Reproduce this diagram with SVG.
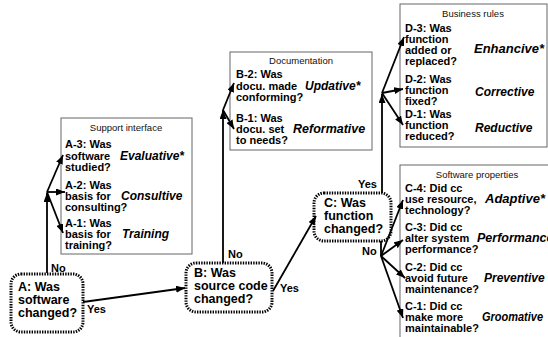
<svg xmlns="http://www.w3.org/2000/svg" width="548" height="337" viewBox="0 0 548 337">
<style>
.box{fill:#fff;stroke:#666;stroke-width:1}
.node{fill:#fff;stroke:#000;stroke-width:3;stroke-dasharray:1.4 1.2}
.hdr{font-family:'Liberation Sans',Arial,sans-serif;font-size:9.5px;text-anchor:middle;fill:#111}
.q{font-family:'Liberation Sans',Arial,sans-serif;font-size:11px;font-weight:bold;fill:#000}
.t{font-family:'Liberation Sans',Arial,sans-serif;font-size:12px;font-weight:bold;font-style:italic;fill:#000}
.n{font-family:'Liberation Sans',Arial,sans-serif;font-size:12.5px;font-weight:bold;fill:#000}
.l{font-family:'Liberation Sans',Arial,sans-serif;font-size:11px;font-weight:bold;fill:#000}
.c{stroke:#000;stroke-width:1.8;fill:none}
</style>
<defs>
<marker id="ah" markerUnits="userSpaceOnUse" markerWidth="9" markerHeight="7" refX="9" refY="3.5" orient="auto">
<path d="M0,0 L9,3.5 L0,7 z" fill="#000"/>
</marker>
</defs>

<g id="support-interface">
<rect class="box" x="61" y="118" width="131" height="136"/>
<text class="hdr" x="126" y="131">Support interface</text>
<text class="q" x="65" y="148">A-3: Was</text>
<text class="q" x="65" y="160">software</text>
<text class="q" x="65" y="171">studied?</text>
<text class="t" x="120" y="160">Evaluative*</text>
<text class="q" x="65" y="189">A-2: Was</text>
<text class="q" x="65" y="200">basis for</text>
<text class="q" x="65" y="211">consulting?</text>
<text class="t" x="121" y="200">Consultive</text>
<text class="q" x="65" y="227">A-1: Was</text>
<text class="q" x="65" y="238">basis for</text>
<text class="q" x="65" y="249">training?</text>
<text class="t" x="122" y="238">Training</text>
</g>

<g id="documentation">
<rect class="box" x="230" y="52" width="142" height="98"/>
<text class="hdr" x="301" y="64">Documentation</text>
<text class="q" x="236" y="78">B-2: Was</text>
<text class="q" x="236" y="90">docu. made</text>
<text class="q" x="236" y="101">conforming?</text>
<text class="t" x="305" y="90">Updative*</text>
<text class="q" x="236" y="122">B-1: Was</text>
<text class="q" x="236" y="133">docu. set</text>
<text class="q" x="236" y="144">to needs?</text>
<text class="t" x="293" y="133" style="font-size:12.5px">Reformative</text>
</g>

<g id="business-rules">
<rect class="box" x="400" y="4" width="147" height="143"/>
<text class="hdr" x="473" y="17">Business rules</text>
<text class="q" x="405" y="32">D-3: Was</text>
<text class="q" x="405" y="43">function</text>
<text class="q" x="405" y="54">added or</text>
<text class="q" x="405" y="65">replaced?</text>
<text class="t" x="474" y="53" style="font-size:13px">Enhancive*</text>
<text class="q" x="405" y="83">D-2: Was</text>
<text class="q" x="405" y="94">function</text>
<text class="q" x="405" y="105">fixed?</text>
<text class="t" x="475" y="96">Corrective</text>
<text class="q" x="405" y="118">D-1: Was</text>
<text class="q" x="405" y="129">function</text>
<text class="q" x="405" y="140">reduced?</text>
<text class="t" x="475" y="132">Reductive</text>
</g>

<g id="software-properties">
<rect class="box" x="400" y="165" width="160" height="190"/>
<text class="hdr" x="477" y="178">Software properties</text>
<text class="q" x="405" y="192">C-4: Did cc</text>
<text class="q" x="405" y="203">use resource,</text>
<text class="q" x="405" y="214">technology?</text>
<text class="t" x="485" y="203" style="font-size:13px">Adaptive*</text>
<text class="q" x="405" y="231">C-3: Did cc</text>
<text class="q" x="405" y="242">alter system</text>
<text class="q" x="405" y="253">performance?</text>
<text class="t" x="477" y="242" style="font-size:12.5px">Performance</text>
<text class="q" x="405" y="271">C-2: Did cc</text>
<text class="q" x="405" y="282">avoid future</text>
<text class="q" x="405" y="293">maintenance?</text>
<text class="t" x="484" y="282">Preventive</text>
<text class="q" x="405" y="310">C-1: Did cc</text>
<text class="q" x="405" y="321">make more</text>
<text class="q" x="405" y="332">maintainable?</text>
<text class="t" x="482" y="321" textLength="61" lengthAdjust="spacingAndGlyphs">Groomative</text>
</g>

<g id="nodeA">
<rect class="node" x="11" y="274" width="72" height="58" rx="10"/>
<text class="n" x="18" y="291">A: Was</text>
<text class="n" x="18" y="304">software</text>
<text class="n" x="18" y="317">changed?</text>
</g>

<g id="nodeB">
<rect class="node" x="186" y="263" width="86" height="49" rx="10"/>
<text class="n" x="194" y="277">B: Was</text>
<text class="n" x="194" y="290">source code</text>
<text class="n" x="194" y="303">changed?</text>
</g>

<g id="nodeC">
<rect class="node" x="314" y="193" width="77" height="48" rx="10"/>
<text class="n" x="324" y="207">C: Was</text>
<text class="n" x="324" y="220">function</text>
<text class="n" x="324" y="233">changed?</text>
</g>

<g id="connectors">
<line class="c" x1="47" y1="273" x2="47" y2="193" marker-end="url(#ah)"/>
<line class="c" x1="47" y1="192" x2="63" y2="155" marker-end="url(#ah)"/>
<line class="c" x1="47" y1="192" x2="65" y2="192" marker-end="url(#ah)"/>
<line class="c" x1="47" y1="192" x2="63" y2="233" marker-end="url(#ah)"/>
<line class="c" x1="83" y1="302" x2="185" y2="288" marker-end="url(#ah)"/>
<line class="c" x1="223" y1="263" x2="223" y2="110" marker-end="url(#ah)"/>
<line class="c" x1="223" y1="110" x2="234" y2="83" marker-end="url(#ah)"/>
<line class="c" x1="223" y1="110" x2="234" y2="129" marker-end="url(#ah)"/>
<line class="c" x1="273" y1="291" x2="316" y2="216" marker-end="url(#ah)"/>
<line class="c" x1="382" y1="193" x2="382" y2="94" marker-end="url(#ah)"/>
<line class="c" x1="382" y1="93" x2="404" y2="37" marker-end="url(#ah)"/>
<line class="c" x1="382" y1="93" x2="403" y2="89" marker-end="url(#ah)"/>
<line class="c" x1="382" y1="93" x2="403" y2="125" marker-end="url(#ah)"/>
<line class="c" x1="381" y1="241" x2="381" y2="256"/>
<line class="c" x1="381" y1="256" x2="403" y2="200" marker-end="url(#ah)"/>
<line class="c" x1="381" y1="256" x2="403" y2="240" marker-end="url(#ah)"/>
<line class="c" x1="381" y1="256" x2="405" y2="278" marker-end="url(#ah)"/>
<line class="c" x1="381" y1="256" x2="403" y2="318" marker-end="url(#ah)"/>
<text class="l" x="51" y="272">No</text>
<text class="l" x="87" y="313">Yes</text>
<text class="l" x="228" y="258">No</text>
<text class="l" x="280" y="292">Yes</text>
<text class="l" x="358" y="188">Yes</text>
<text class="l" x="362" y="255">No</text>
</g>
</svg>
